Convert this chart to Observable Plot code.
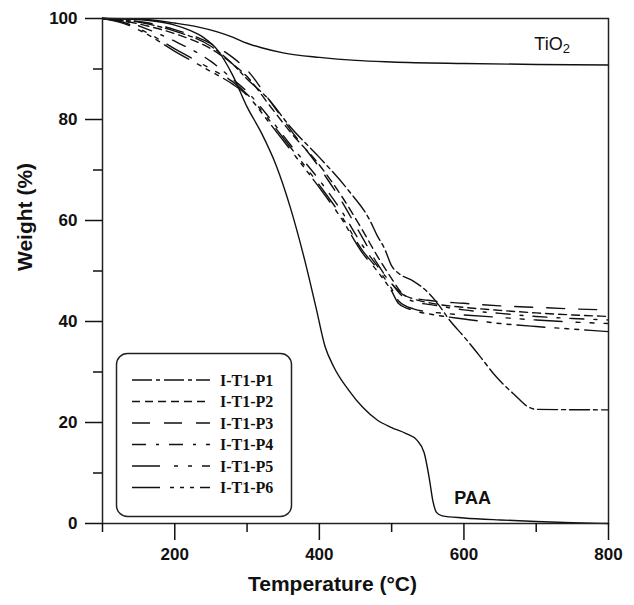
<!DOCTYPE html>
<html>
<head>
<meta charset="utf-8">
<script src="https://cdn.jsdelivr.net/npm/d3@7"></script>
<script src="https://cdn.jsdelivr.net/npm/@observablehq/plot@0.6"></script>
<style>
  body { margin: 0; background: white; }
  #wrap { position: relative; width: 634px; height: 605px; }
  #legend { position: absolute; left: 0; top: 0; }
</style>
</head>
<body>
<div id="wrap"></div>
<script>
// ---- data (temperature °C, weight %) ----
const seriesNames = ["I-T1-P1", "I-T1-P2", "I-T1-P3", "I-T1-P4", "I-T1-P5", "I-T1-P6"];
const dashPatterns = ["20,4,4,4", "8,5", "18,14", "14,10,3,10", "28,14,4,10,4,10", "28,10,4,6,4,6,4,6"];

const TiO2 = [[100,100],[150,99.9],[200,99.1],[230,98.4],[260,97.3],[280,96.3],[300,95.1],[320,94.2],[350,93.2],[400,92.3],[450,91.7],[500,91.4],[600,91.1],[700,90.9],[800,90.8]];
const PAA = [[100,100],[150,99.8],[180,99.3],[200,98.7],[220,97.7],[240,96.2],[260,93.6],[280,88.8],[300,82.5],[320,77.3],[340,71],[360,62.5],[380,52],[395,43],[408,35],[420,31],[440,26.5],[460,23],[480,20.5],[500,19],[520,17.8],[535,16.5],[545,14],[552,9],[557,4.5],[562,2.2],[570,1.5],[600,1.1],[650,0.7],[700,0.4],[750,0.15],[800,0]];
const P1 = [[100,100],[130,99.7],[160,99],[200,97.5],[250,94.5],[280,91],[300,88],[330,84],[360,78.5],[400,72.5],[440,66],[470,60],[480,57],[490,54.5],[500,51],[510,49.5],[530,48],[550,45.8],[565,43.3],[580,40.3],[600,37],[620,33.5],[645,29],[670,25.5],[690,23],[700,22.6],[800,22.5]];
const P2 = [[100,100],[130,99.5],[160,98.6],[200,97],[250,94],[280,91],[300,88.5],[330,83],[360,77.5],[400,71],[430,65],[460,58],[480,53],[500,48.5],[515,45.5],[530,44.5],[560,43.5],[600,42.8],[650,42.2],[700,41.7],[750,41.3],[800,41.0]];
const P3 = [[100,100],[130,99.7],[160,99.2],[200,97.8],[250,95],[280,92.3],[300,89.8],[330,84],[360,78],[400,70.5],[430,64],[460,56.5],[480,51.5],[500,47.5],[520,45],[550,44.2],[600,43.6],[650,43.1],[700,42.8],[750,42.5],[800,42.3]];
const P4 = [[100,100],[130,99.5],[160,98],[200,95.5],[250,91.5],[280,88],[300,85.5],[330,80.5],[360,75],[400,68],[430,62],[460,55],[480,51],[500,47.5],[515,45],[530,44],[560,43.2],[600,42.3],[650,41.6],[700,41],[750,40.6],[800,40.3]];
const P5 = [[100,100],[130,99.2],[160,97.3],[200,94],[250,90],[280,87.5],[300,85],[330,80],[360,74.5],[400,67],[430,61],[460,54],[480,50.5],[500,46.5],[510,44],[530,42.5],[560,41.8],[600,41.3],[650,40.8],[700,40.3],[750,39.9],[800,39.6]];
const P6 = [[100,100],[130,99],[160,97],[200,93.5],[250,89.5],[280,87],[300,84.8],[330,79.5],[360,74],[400,66.5],[430,60.5],[460,53.5],[480,50],[500,46],[510,43.5],[530,42.2],[560,41.3],[600,40.5],[650,39.6],[700,39],[750,38.5],[800,38.0]];

const xMajorTicks = [200, 400, 600, 800];
const xMinorTicks = [100, 300, 500, 700];
const yMajorTicks = [0, 20, 40, 60, 80, 100];
const yMinorTicks = [10, 30, 50, 70, 90];

const annotations = [
  {label: "TiO2", T: 722, W: 95.0, weight: "normal"},
  {label: "PAA", T: 612, W: 5.0, weight: "bold"}
];

// ---- build table ----
const composite = [P1, P2, P3, P4, P5, P6];
const rows = [];
TiO2.forEach(([T, W]) => rows.push({series: "TiO2", T, W, dash: "none"}));
PAA.forEach(([T, W]) => rows.push({series: "PAA", T, W, dash: "none"}));
composite.forEach((arr, i) => arr.forEach(([T, W]) => rows.push({series: seriesNames[i], T, W, dash: dashPatterns[i]})));

const allSeries = ["TiO2", "PAA", ...seriesNames];
const dashOf = {TiO2: null, PAA: null};
seriesNames.forEach((s, i) => dashOf[s] = dashPatterns[i]);

const lineMarks = allSeries.map(s => Plot.line(rows.filter(r => r.series === s), {
  x: "T", y: "W", stroke: "#111", strokeWidth: 1.4, curve: "monotone-x",
  strokeDasharray: dashOf[s] || undefined
}));

const chart = Plot.plot({
  width: 634,
  height: 605,
  marginLeft: 102,
  marginRight: 26,
  marginTop: 18,
  marginBottom: 82,
  style: {fontFamily: "'Liberation Sans', Arial, sans-serif", fontSize: "17px", fontWeight: "bold", color: "#111", background: "white", overflow: "visible"},
  x: {domain: [100, 800]},
  y: {domain: [0, 100]},
  marks: [
    ...lineMarks,
    Plot.frame({stroke: "#222", strokeWidth: 1.5}),
    Plot.axisX({ticks: xMajorTicks, tickSize: 17, tickPadding: 7, label: null, fontSize: 17, fontWeight: "bold", strokeWidth: 1.5}),
    Plot.axisX({ticks: xMinorTicks, tickSize: 9, tickFormat: () => "", label: null, strokeWidth: 1.5}),
    Plot.axisY({ticks: yMajorTicks, tickSize: 17, tickPadding: 8, label: null, fontSize: 17, fontWeight: "bold", strokeWidth: 1.5}),
    Plot.axisY({ticks: yMinorTicks, tickSize: 9, tickFormat: () => "", label: null, strokeWidth: 1.5}),
    Plot.text(["Temperature (°C)"], {frameAnchor: "bottom", dy: 67, dx: -23, fontSize: 21, fontWeight: "bold"}),
    Plot.text(["Weight (%)"], {frameAnchor: "left", dx: -77, rotate: -90, fontSize: 21, fontWeight: "bold"}),
    Plot.text(annotations, {x: "T", y: "W", text: "label", fontSize: 18, fontWeight: d => d.weight === "bold" ? "bold" : "normal", className: "annot"})
  ]
});

document.getElementById("wrap").appendChild(chart);

// subscript for TiO2
d3.select(chart).selectAll("text").each(function() {
  if (this.textContent === "TiO2") {
    const t = d3.select(this);
    t.text(null);
    t.append("tspan").text("TiO");
    t.append("tspan").attr("dy", "0.3em").attr("font-size", "13px").text("2");
  }
});
d3.select(chart).selectAll("text").filter(function(){ return this.textContent === "TiO2"; }).attr("font-weight", "normal");

// ---- legend (dash-pattern key, which Plot has no built-in legend for) ----
const lg = d3.select("#wrap").append("svg").attr("id", "legend").attr("width", 634).attr("height", 605)
  .style("pointer-events", "none");
lg.append("rect").attr("x", 116.5).attr("y", 353.5).attr("width", 175).attr("height", 163)
  .attr("rx", 11).attr("fill", "white").attr("stroke", "#222").attr("stroke-width", 1.5);
seriesNames.forEach((s, i) => {
  const y = 380 + i * 21.5;
  lg.append("line").attr("x1", 132).attr("x2", 210).attr("y1", y).attr("y2", y)
    .attr("stroke", "#111").attr("stroke-width", 1.4).attr("stroke-dasharray", dashPatterns[i]);
  lg.append("text").attr("x", 220).attr("y", y).attr("dy", "0.35em")
    .attr("font-family", "'Liberation Serif', 'Times New Roman', serif").attr("font-weight", "bold")
    .attr("font-size", 16).attr("fill", "#111").text(s);
});
</script>
</body>
</html>
